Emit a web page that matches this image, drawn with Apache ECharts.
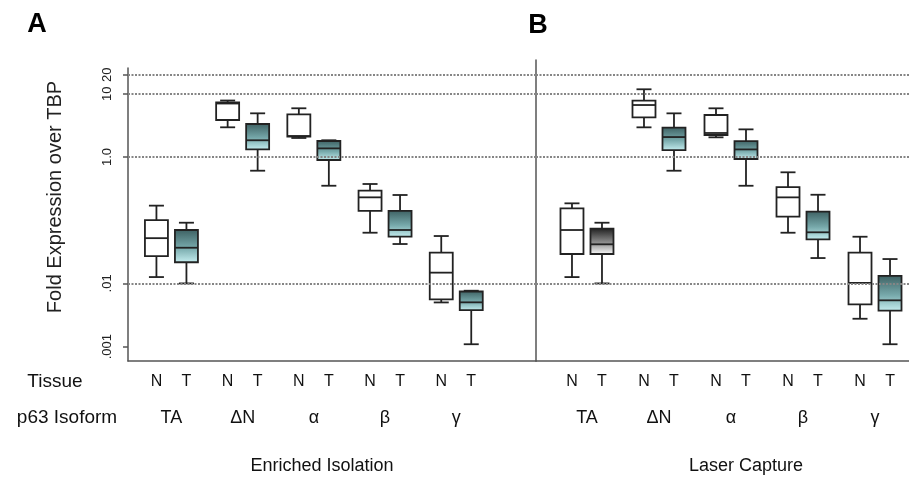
<!DOCTYPE html>
<html>
<head>
<meta charset="utf-8">
<script src="https://cdn.jsdelivr.net/npm/echarts@6/dist/echarts.min.js"></script>
<style>
  html, body { margin: 0; padding: 0; background: #fff; }
  #chart { width: 909px; height: 483px; }
</style>
</head>
<body>
<div id="chart"></div>
<script>
// categories
var isoforms = ['TA', 'ΔN', 'α', 'β', 'γ'];
var tissues = ['N', 'T'];

// y axis ticks (log scale)
var yTickValues = [0.001, 0.01, 1, 10, 20];
var yTickLabels = ['.001', '.01', '1.0', '10', '20'];

// boxes: [min, q1, median, q3, max]
var enrichedN = [
	[0.0126, 0.027, 0.052, 0.10, 0.17],
	[2.95, 3.85, 7.02, 7.28, 7.83],
	[2.0, 2.10, 2.15, 4.74, 5.90],
	[0.0634, 0.140, 0.230, 0.293, 0.374],
	[0.0050, 0.0056, 0.0148, 0.0306, 0.0562]
];
var enrichedT = [
	[0.0100, 0.0216, 0.0367, 0.070, 0.0913],
	[0.607, 1.32, 1.84, 3.33, 4.91],
	[0.351, 0.897, 1.37, 1.79, 1.84],
	[0.042, 0.0548, 0.070, 0.140, 0.2505],
	[0.00109, 0.00379, 0.00502, 0.00745, 0.00766]
];
var laserN = [
	[0.0126, 0.0292, 0.070, 0.154, 0.185],
	[2.95, 4.25, 6.65, 7.78, 11.8],
	[2.05, 2.23, 2.40, 4.62, 5.90],
	[0.0634, 0.1136, 0.230, 0.335, 0.573],
	[0.00276, 0.00467, 0.0102, 0.0306, 0.0548]
];
var laserT = [
	[0.0100, 0.0292, 0.0416, 0.0734, 0.0913],
	[0.607, 1.29, 2.07, 2.91, 4.91],
	[0.351, 0.93, 1.32, 1.79, 2.74],
	[0.0252, 0.0499, 0.0644, 0.1363, 0.253],
	[0.00109, 0.0037, 0.0054, 0.0132, 0.0243]
];

var FONT = '"Liberation Sans", Arial, sans-serif';
var INK = '#222';

// fills
var tealFill = function () {
	return new echarts.graphic.LinearGradient(0, 0, 0, 1, [
		{ offset: 0, color: '#3c5f61' },
		{ offset: 0.55, color: '#77a9ab' },
		{ offset: 1, color: '#c8f0f2' }
	]);
};
var grayFill = function () {
	return new echarts.graphic.LinearGradient(0, 0, 0, 1, [
		{ offset: 0, color: '#1c1c1c' },
		{ offset: 0.6, color: '#9a9a9a' },
		{ offset: 1, color: '#ffffff' }
	]);
};

function toRows(list) {
	return list.map(function (b, i) { return [i].concat(b); });
}

function makeRender(side, fillFor) {
	return function (params, api) {
		var x = api.value(0);
		var pt = function (k) { return api.coord([x, api.value(k)]); };
		var lo = pt(1), q1 = pt(2), med = pt(3), q3 = pt(4), hi = pt(5);
		var cx = lo[0] + side * 15;
		var hw = 11.5, cw = 7.5;
		var line = { stroke: INK, lineWidth: 1.8 };
		var cs = params.coordSys;
		return {
			type: 'group',
			children: [
				{ type: 'line', shape: { x1: cx, y1: hi[1], x2: cx, y2: q3[1] }, style: line },
				{ type: 'line', shape: { x1: cx, y1: q1[1], x2: cx, y2: lo[1] }, style: line },
				{ type: 'line', shape: { x1: cx - cw, y1: hi[1], x2: cx + cw, y2: hi[1] }, style: line },
				{ type: 'line', shape: { x1: cx - cw, y1: lo[1], x2: cx + cw, y2: lo[1] }, style: line },
				{ type: 'rect', shape: { x: cx - hw, y: q3[1], width: 2 * hw, height: q1[1] - q3[1] },
					style: { fill: fillFor(params.dataIndex), stroke: INK, lineWidth: 1.8 } },
				{ type: 'line', shape: { x1: cx - hw, y1: med[1], x2: cx + hw, y2: med[1] }, style: line },
				{ type: 'text', style: {
					text: tissues[side < 0 ? 0 : 1], x: cx, y: cs.y + cs.height + 21,
					align: 'center', verticalAlign: 'middle',
					font: '16px ' + FONT, fill: '#111'
				} }
			]
		};
	};
}

var gridLines = {
	silent: true,
	symbol: 'none',
	label: { show: false },
	lineStyle: { type: [2, 1.5], color: '#858585', width: 2 },
	data: yTickValues.map(function (v) { return { yAxis: v }; })
};

function yLabel(v) {
	for (var i = 0; i < yTickValues.length; i++) {
		if (Math.abs(Math.log10(yTickValues[i]) - Math.log10(v)) < 1e-6) return yTickLabels[i];
	}
	return '';
}

function xAxisFor(idx, min, max) {
	return {
		type: 'value', gridIndex: idx, min: min, max: max,
		axisLine: { show: true, onZero: false, lineStyle: { color: '#555', width: 1.5 } },
		axisTick: { show: false },
		splitLine: { show: false },
		axisLabel: {
			customValues: [0, 1, 2, 3, 4],
			formatter: function (v) { return isoforms[Math.round(v)]; },
			margin: 48, fontSize: 18, fontFamily: FONT, color: '#111'
		}
	};
}

var option = {
	backgroundColor: '#fff',
	animation: false,
	grid: [
		{ left: 128, top: 68, width: 408, height: 293 },
		{ left: 536, top: 60, width: 373, height: 301 }
	],
	xAxis: [xAxisFor(0, -0.61, 5.12), xAxisFor(1, -0.708, 4.472)],
	yAxis: [
		{
			type: 'log', logBase: 10, gridIndex: 0, min: 0.000592, max: 25.6,
			axisLine: { show: true, onZero: false, lineStyle: { color: '#555', width: 1.5 } },
			axisTick: { show: true, customValues: yTickValues, length: 5, lineStyle: { color: '#555', width: 1.5 } },
			axisLabel: {
				show: true, customValues: yTickValues, rotate: 90, margin: 14,
				formatter: yLabel, fontSize: 13, fontFamily: FONT, color: '#222'
			},
			splitLine: { show: false },
			minorTick: { show: false }
		},
		{
			type: 'log', logBase: 10, gridIndex: 1, min: 0.000592, max: 34.3,
			axisLine: { show: true, onZero: false, lineStyle: { color: '#555', width: 1.5 } },
			axisTick: { show: false },
			axisLabel: { show: false },
			splitLine: { show: false }
		}
	],
	graphic: [
		{ type: 'text', x: 37, y: 25, style: { text: 'A', font: 'bold 27px ' + FONT, fill: '#000', align: 'center', verticalAlign: 'middle', textAlign: 'center', textVerticalAlign: 'middle' } },
		{ type: 'text', x: 538, y: 26, style: { text: 'B', font: 'bold 27px ' + FONT, fill: '#000', align: 'center', verticalAlign: 'middle', textAlign: 'center', textVerticalAlign: 'middle' } },
		{ type: 'text', x: 55, y: 197, rotation: Math.PI / 2, style: { text: 'Fold Expression over TBP', font: '20px ' + FONT, fill: '#222', align: 'center', verticalAlign: 'middle', textAlign: 'center', textVerticalAlign: 'middle' } },
		{ type: 'text', x: 55, y: 382, style: { text: 'Tissue', font: '19px ' + FONT, fill: '#111', align: 'center', verticalAlign: 'middle', textAlign: 'center', textVerticalAlign: 'middle' } },
		{ type: 'text', x: 67, y: 418, style: { text: 'p63 Isoform', font: '19px ' + FONT, fill: '#111', align: 'center', verticalAlign: 'middle', textAlign: 'center', textVerticalAlign: 'middle' } },
		{ type: 'text', x: 322, y: 466, style: { text: 'Enriched Isolation', font: '18px ' + FONT, fill: '#111', align: 'center', verticalAlign: 'middle', textAlign: 'center', textVerticalAlign: 'middle' } },
		{ type: 'text', x: 746, y: 466, style: { text: 'Laser Capture', font: '18px ' + FONT, fill: '#111', align: 'center', verticalAlign: 'middle', textAlign: 'center', textVerticalAlign: 'middle' } }
	],
	series: [
		{
			name: 'enrichedN', type: 'custom', xAxisIndex: 0, yAxisIndex: 0,
			encode: { x: 0, y: [1, 2, 3, 4, 5] },
			renderItem: makeRender(-1, function () { return '#fff'; }),
			data: toRows(enrichedN),
			markLine: gridLines,
			z: 3
		},
		{
			name: 'enrichedT', type: 'custom', xAxisIndex: 0, yAxisIndex: 0,
			encode: { x: 0, y: [1, 2, 3, 4, 5] },
			renderItem: makeRender(1, function () { return tealFill(); }),
			data: toRows(enrichedT),
			z: 3
		},
		{
			name: 'laserN', type: 'custom', xAxisIndex: 1, yAxisIndex: 1,
			encode: { x: 0, y: [1, 2, 3, 4, 5] },
			renderItem: makeRender(-1, function () { return '#fff'; }),
			data: toRows(laserN),
			markLine: gridLines,
			z: 3
		},
		{
			name: 'laserT', type: 'custom', xAxisIndex: 1, yAxisIndex: 1,
			encode: { x: 0, y: [1, 2, 3, 4, 5] },
			// first laser-capture T box is drawn in grey in the figure
			renderItem: makeRender(1, function (i) { return i === 0 ? grayFill() : tealFill(); }),
			data: toRows(laserT),
			z: 3
		}
	]
};

var myChart = echarts.init(document.getElementById('chart'));
myChart.setOption(option);
window.onresize = myChart.resize;
</script>
</body>
</html>
